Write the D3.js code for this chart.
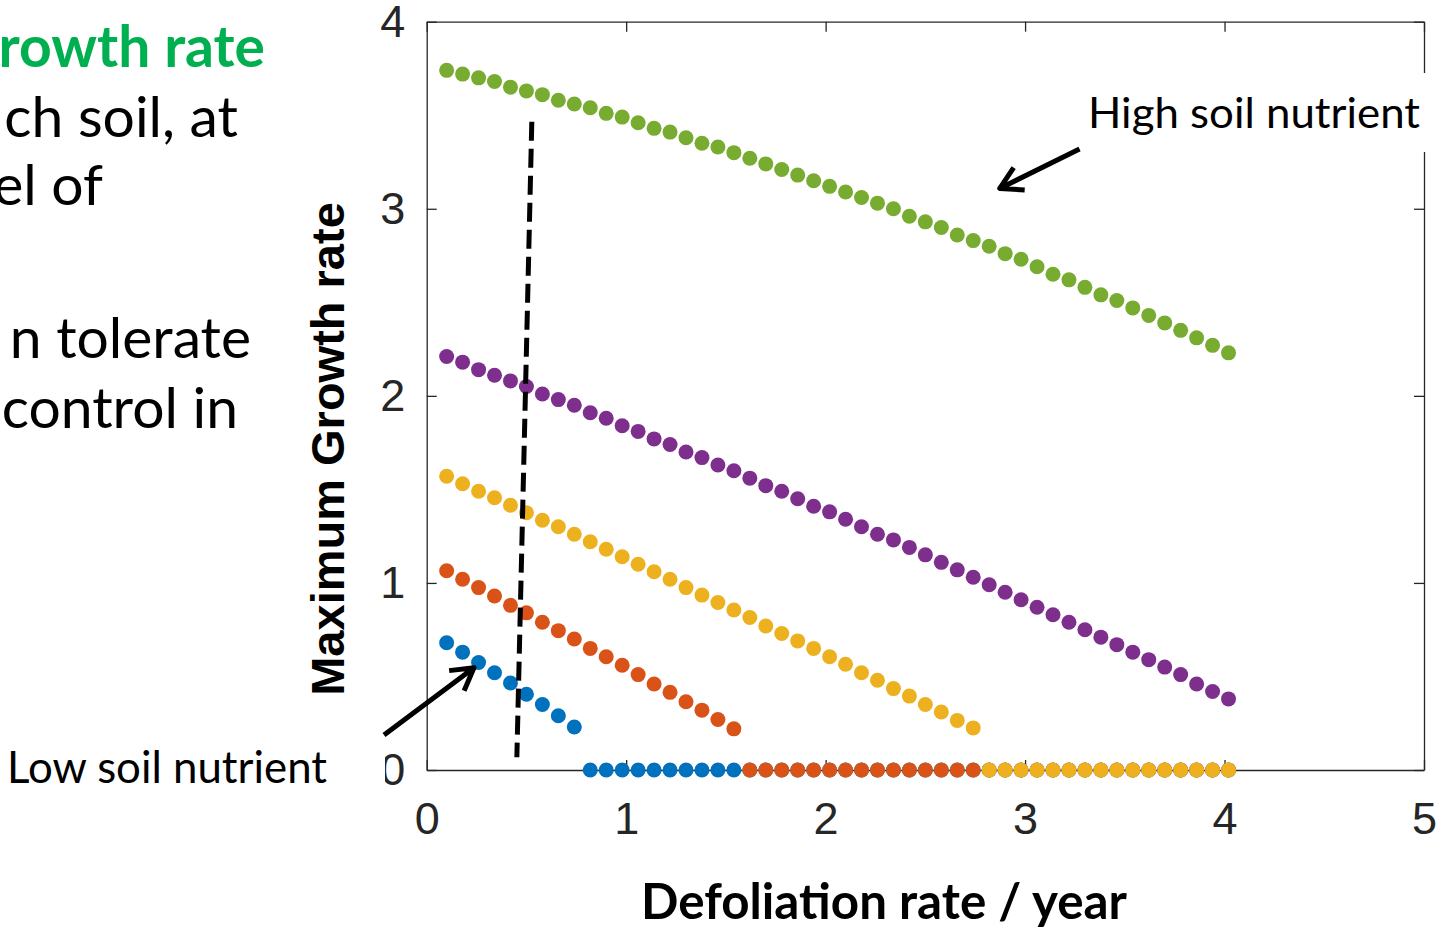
<!DOCTYPE html>
<html>
<head>
<meta charset="utf-8">
<script src="https://cdn.jsdelivr.net/npm/d3@7"></script>
<style>
  body { margin: 0; background: #fff; }
  svg { display: block; }
</style>
</head>
<body>
<svg id="chart" width="1441" height="930"></svg>
<script>
// defoliation rate (per year) at which each growth rate was computed
const defoliation = [
  0.10, 0.18, 0.26, 0.34, 0.42, 0.50, 0.58, 0.66, 0.74, 0.82,
  0.90, 0.98, 1.06, 1.14, 1.22, 1.30, 1.38, 1.46, 1.54, 1.62,
  1.70, 1.78, 1.86, 1.94, 2.02, 2.10, 2.18, 2.26, 2.34, 2.42,
  2.50, 2.58, 2.66, 2.74, 2.82, 2.90, 2.98, 3.06, 3.14, 3.22,
  3.30, 3.38, 3.46, 3.54, 3.62, 3.70, 3.78, 3.86, 3.94, 4.02
];

// maximum growth rate, one array per soil nutrient level (low -> high)
const growthN1 = [
  0.68, 0.63, 0.575, 0.52, 0.465, 0.405, 0.35, 0.29, 0.23, 0,
  0, 0, 0, 0, 0, 0, 0, 0, 0, 0,
  0, 0, 0, 0, 0, 0, 0, 0, 0, 0,
  0, 0, 0, 0, 0, 0, 0, 0, 0, 0,
  0, 0, 0, 0, 0, 0, 0, 0, 0, 0
];
const growthN2 = [
  1.065, 1.02, 0.975, 0.93, 0.88, 0.84, 0.79, 0.745, 0.70, 0.65,
  0.605, 0.56, 0.51, 0.46, 0.415, 0.365, 0.32, 0.27, 0.22, 0,
  0, 0, 0, 0, 0, 0, 0, 0, 0, 0,
  0, 0, 0, 0, 0, 0, 0, 0, 0, 0,
  0, 0, 0, 0, 0, 0, 0, 0, 0, 0
];
const growthN3 = [
  1.57, 1.53, 1.49, 1.455, 1.415, 1.375, 1.335, 1.30, 1.26, 1.22,
  1.18, 1.14, 1.10, 1.06, 1.02, 0.975, 0.935, 0.895, 0.855, 0.815,
  0.77, 0.73, 0.69, 0.65, 0.605, 0.565, 0.52, 0.48, 0.435, 0.395,
  0.35, 0.31, 0.265, 0.225, 0, 0, 0, 0, 0, 0,
  0, 0, 0, 0, 0, 0, 0, 0, 0, 0
];
const growthN4 = [
  2.21, 2.18, 2.14, 2.11, 2.08, 2.05, 2.01, 1.98, 1.95, 1.91,
  1.88, 1.84, 1.81, 1.77, 1.74, 1.70, 1.67, 1.63, 1.60, 1.56,
  1.52, 1.49, 1.45, 1.41, 1.38, 1.34, 1.30, 1.26, 1.23, 1.19,
  1.15, 1.11, 1.07, 1.03, 0.99, 0.95, 0.91, 0.87, 0.83, 0.79,
  0.75, 0.71, 0.67, 0.63, 0.59, 0.55, 0.51, 0.46, 0.42, 0.38
];
const growthN5 = [
  3.74, 3.72, 3.70, 3.68, 3.65, 3.63, 3.61, 3.58, 3.56, 3.54,
  3.51, 3.49, 3.46, 3.43, 3.41, 3.38, 3.35, 3.33, 3.30, 3.27,
  3.24, 3.21, 3.18, 3.15, 3.12, 3.09, 3.06, 3.03, 3.00, 2.96,
  2.93, 2.90, 2.86, 2.83, 2.80, 2.76, 2.73, 2.69, 2.65, 2.62,
  2.58, 2.54, 2.51, 2.47, 2.43, 2.39, 2.35, 2.31, 2.27, 2.23
];

const seriesValues = [growthN1, growthN2, growthN3, growthN4, growthN5];
const seriesColors = ["#0072BD", "#D95319", "#EDB120", "#7E2F8E", "#77AC30"];

const xTicks = [0, 1, 2, 3, 4, 5];
const yTicks = [0, 1, 2, 3, 4];

// dashed threshold line, ends in data units
const thresholdX = [0.527, 0.452];
const thresholdY = [3.465, 0.068];

const PLOT = {left: 426.7, right: 1424, top: 21.7, bottom: 770};
const AXIS_COLOR = "#262626";
const TICK_LEN = 10;
const DOT_R = 7.5;
const CALIBRI = "Lato, 'Open Sans', sans-serif";
const HELV = "'Liberation Sans', Arial, sans-serif";

const svg = d3.select("#chart");

const x = d3.scaleLinear().domain([0, 5]).range([PLOT.left, PLOT.right]);
const y = d3.scaleLinear().domain([0, 4]).range([PLOT.bottom, PLOT.top]);


function styleAxis(g) {
    g.attr("font-size", null).attr("font-family", null);
    g.select(".domain").attr("stroke", AXIS_COLOR).attr("stroke-width", 1.3);
    g.selectAll(".tick line").attr("stroke", AXIS_COLOR).attr("stroke-width", 1.3);
    g.selectAll(".tick text")
	.attr("fill", AXIS_COLOR)
	.style("font-family", HELV)
	.style("font-size", "45px");
}


function drawSlideText() {
    // text from the slide behind the figure, cut at the left edge
    const lines = [
	{t: "rowth rate", x: 265, y: 67, bold: true, color: "#00B050"},
	{t: "ch soil, at", x: 238, y: 137},
	{t: "el of", x: 103, y: 205},
	{t: "n tolerate", x: 251, y: 358},
	{t: "control in", x: 238, y: 428}
    ];
    svg.append("g").selectAll("text")
	.data(lines)
	.join("text")
	.attr("x", d => d.x)
	.attr("y", d => d.y)
	.attr("text-anchor", "end")
	.style("font-family", CALIBRI)
	.style("font-size", "57px")
	.style("font-weight", d => d.bold ? 700 : 400)
	.attr("fill", d => d.color || "#000")
	.text(d => d.t);
}


function drawAxes() {
    svg.append("g")
	.attr("transform", `translate(0,${PLOT.bottom})`)
	.call(d3.axisBottom(x).tickValues(xTicks).tickFormat(d3.format("d"))
	      .tickSizeInner(-TICK_LEN).tickSizeOuter(0).tickPadding(32))
	.call(styleAxis);

    svg.append("g")
	.attr("transform", `translate(${PLOT.left},0)`)
	.call(d3.axisLeft(y).tickValues(yTicks).tickFormat(d3.format("d"))
	      .tickSizeInner(-TICK_LEN).tickSizeOuter(0).tickPadding(21.5))
	.call(styleAxis);

    svg.append("g")
	.attr("transform", `translate(0,${PLOT.top})`)
	.call(d3.axisTop(x).tickValues(xTicks).tickFormat("")
	      .tickSizeInner(-TICK_LEN).tickSizeOuter(0))
	.call(styleAxis);

    svg.append("g")
	.attr("transform", `translate(${PLOT.right},0)`)
	.call(d3.axisRight(y).tickValues(yTicks).tickFormat("")
	      .tickSizeInner(-TICK_LEN).tickSizeOuter(0))
	.call(styleAxis);

    svg.append("text")
	.attr("transform", `translate(344,449) rotate(-90)`)
	.attr("text-anchor", "middle")
	.style("font-family", HELV)
	.style("font-size", "47px")
	.style("font-weight", 700)
	.attr("fill", "#000")
	.text("Maximum Growth rate");

    svg.append("text")
	.attr("x", 641)
	.attr("y", 919)
	.attr("textLength", 486)
	.attr("lengthAdjust", "spacingAndGlyphs")
	.style("font-family", CALIBRI)
	.style("font-size", "50px")
	.style("font-weight", 700)
	.attr("fill", "#000")
	.text("Defoliation rate / year");
}


function drawSeries() {
    const dots = svg.append("g");
    seriesValues.forEach(function(vals, s) {
	const pts = defoliation.map((d, i) => ({x: d, y: vals[i]}));
	dots.append("g")
	    .selectAll("circle")
	    .data(pts)
	    .join("circle")
	    .attr("cx", d => x(d.x))
	    .attr("cy", d => y(d.y))
	    .attr("r", DOT_R)
	    .attr("fill", seriesColors[s]);
    });

    svg.append("line")
	.attr("x1", x(thresholdX[0])).attr("y1", y(thresholdY[0]))
	.attr("x2", x(thresholdX[1])).attr("y2", y(thresholdY[1]))
	.attr("stroke", "#000")
	.attr("stroke-width", 5)
	.attr("stroke-dasharray", "19,8");
}


function drawArrow(from, to) {
    const x0 = x(from[0]), y0 = y(from[1]);
    const x1 = x(to[0]), y1 = y(to[1]);
    const ang = Math.atan2(y0 - y1, x0 - x1);
    const len = 25, spread = Math.PI / 6;
    const p = d3.path();
    p.moveTo(x0, y0);
    p.lineTo(x1, y1);
    p.moveTo(x1 + len * Math.cos(ang - spread), y1 + len * Math.sin(ang - spread));
    p.lineTo(x1, y1);
    p.lineTo(x1 + len * Math.cos(ang + spread), y1 + len * Math.sin(ang + spread));
    svg.append("path")
	.attr("d", p.toString())
	.attr("fill", "none")
	.attr("stroke", "#000")
	.attr("stroke-width", 5)
	.attr("stroke-linejoin", "round");
}


function drawAnnotations() {
    // text boxes have a white fill that hides part of the frame / tick label
    svg.append("rect")
	.attr("x", 1083).attr("y", 73)
	.attr("width", 358).attr("height", 79)
	.attr("fill", "#fff");
    svg.append("rect")
	.attr("x", 0).attr("y", 745)
	.attr("width", 385).attr("height", 55)
	.attr("fill", "#fff");

    svg.append("text")
	.attr("x", 1088).attr("y", 128)
	.attr("textLength", 332)
	.attr("lengthAdjust", "spacingAndGlyphs")
	.style("font-family", CALIBRI)
	.style("font-size", "43px")
	.attr("fill", "#000")
	.text("High soil nutrient");

    svg.append("text")
	.attr("x", 7).attr("y", 783)
	.attr("textLength", 320)
	.attr("lengthAdjust", "spacingAndGlyphs")
	.style("font-family", CALIBRI)
	.style("font-size", "44px")
	.attr("fill", "#000")
	.text("Low soil nutrient");

    drawArrow([3.273, 3.319], [2.873, 3.109]);
    drawArrow([-0.214, 0.187], [0.237, 0.547]);
}


drawSlideText();
drawAxes();
drawSeries();
drawAnnotations();
</script>
</body>
</html>
